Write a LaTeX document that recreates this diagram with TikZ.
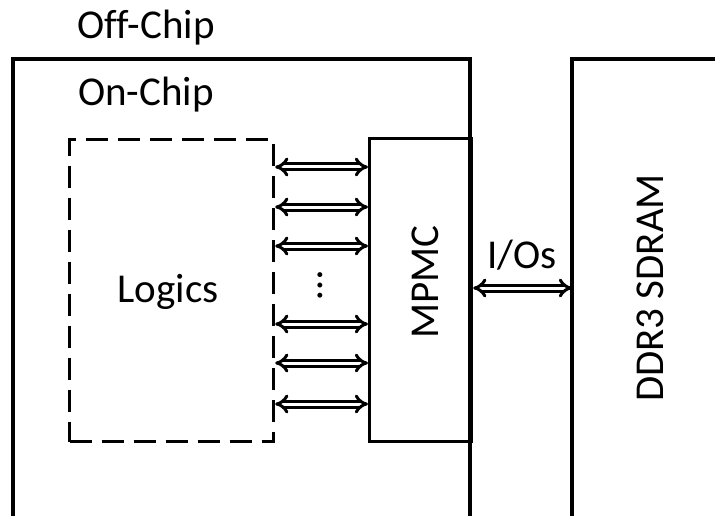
\documentclass[tikz,border=0pt]{standalone}
\usepackage{fontspec}
\setmainfont[Ligatures={NoCommon}]{Carlito}
\usetikzlibrary{arrows.meta}
\begin{document}
\begin{tikzpicture}[x=1pt,y=-1pt,
  box/.style={draw,line width=3.2pt},
  lbl/.style={font=\fontsize{41}{48}\selectfont,inner sep=0pt,anchor=base},
  bus/.style={double,line width=3pt,double distance=3pt,{Implies[length=8pt]}-{Implies[length=8pt]}},
]
\useasboundingbox (0,0) rectangle (715,516);
\begin{scope}
\clip (0,0) rectangle (715,516);
\draw[box] (13,59) rectangle (470,520);
\draw[box] (572,59) rectangle (730,520);
\end{scope}
\node[draw,line width=3.2pt,dash pattern=on 22pt off 10pt,minimum width=204pt,minimum height=302pt,anchor=north west] (logic) at (68,138) {};
\node[draw,line width=3.2pt,minimum width=102pt,minimum height=303pt,anchor=north west] (mpmc) at (368,137) {};
\node[lbl] (logictxt) at (168,302) {Logics};
\node[lbl,rotate=90] (mpmctxt) at (438,282) {MPMC};
\node[lbl,rotate=90] (ddr) at (663,288) {DDR3 SDRAM};
\node[lbl] (off) at (146,39) {Off-Chip};
\node[lbl] (on) at (146,106) {On-Chip};
\node[lbl] (io) at (522,268) {I/Os};
\node[lbl,rotate=90] (dots) at (322,285) {…};
\coordinate (ddrl) at (572,288);
\foreach \y in {167,207,246,324,363,404}{
  \draw[bus] (logic.east |- 0,\y) -- (mpmc.west |- 0,\y);
}
\draw[bus] (mpmc.east |- 0,288) -- (ddrl);
\end{tikzpicture}
\end{document}
